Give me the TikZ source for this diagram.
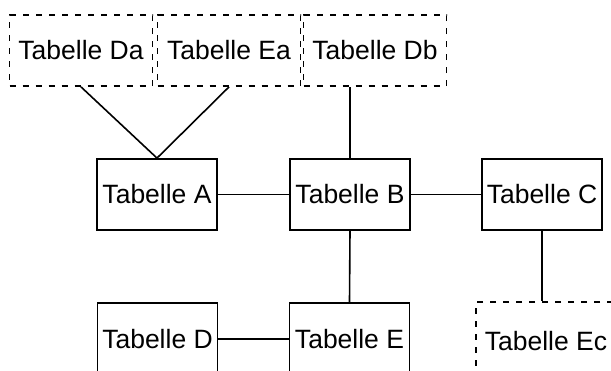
\documentclass[tikz,border=0pt]{standalone}
\usepackage{fontspec}
\setmainfont{Liberation Sans}
\begin{document}
\begin{tikzpicture}[x=1pt,y=-1pt,
  table/.style={draw=black, line width=1.8pt, minimum width=120pt, minimum height=71pt,
    inner sep=0pt, font=\fontsize{26.5}{30}\selectfont},
  sidetable/.style={table, dashed, dash pattern=on 6pt off 7pt, minimum width=143pt},
  link/.style={draw=black, line width=1.6pt}]
\useasboundingbox (0,0) rectangle (611,370);
\clip (0,0) rectangle (611,370);
% dashed side tables
\node[sidetable] (Da) at (81,50.5) {Tabelle Da};
\node[sidetable] (Ea) at (229,50.5) {Tabelle Ea};
\node[sidetable] (Db) at (375,50.5) {Tabelle Db};
\node[sidetable, minimum width=140pt, minimum height=78pt] (Ec) at (546,341) {Tabelle Ec};
% main tables
\node[table] (A) at (157,194.5) {Tabelle A};
\node[table] (B) at (350,194.5) {Tabelle B};
\node[table] (C) at (542,194.5) {Tabelle C};
\node[table, minimum height=72pt] (D) at (157.5,339) {Tabelle D};
\node[table, minimum height=72pt] (E) at (349.5,339) {Tabelle E};
% relations
\draw[link] (Da.south) -- (A.north);
\draw[link] (Ea.south) -- (A.north);
\draw[link] (B.north) -- (B.north |- Db.south);
\draw[link] (A.east) -- (B.west);
\draw[link] (B.east) -- (C.west);
\draw[link] (B.south) -- (E.north);
\draw[link] (C.south) -- (C.south |- Ec.north);
\draw[link] (D.east) -- (E.west);
\end{tikzpicture}
\end{document}
